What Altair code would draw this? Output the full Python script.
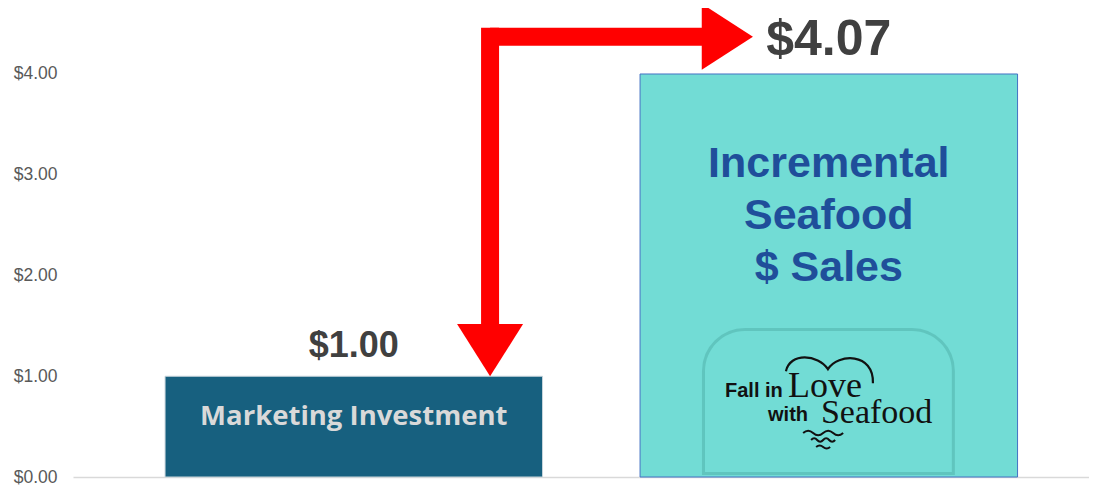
import altair as alt
import pandas as pd

# ---- data ----
categories = ["Marketing Investment", "Incremental Seafood $ Sales"]
values = [1.00, 4.00]
value_labels = ["$1.00", "$4.07"]
inner_labels = ["Marketing Investment", "Incremental\nSeafood\n$ Sales"]
bar_colors = ["#17607F", "#72DCD5"]
bar_strokes = ["#C9D6DC", "#4472C4"]
y_ticks = [0, 1, 2, 3, 4]

# annotation level of the "$4.07" callout arrow (in $)
arrow_level = 4.37

# ---- layout helpers ----
PLOT_H = 469
Y_MAX = 4.655
PX_PER_UNIT = PLOT_H / Y_MAX
HEAD_LEN_PX = 52

x_scale = alt.Scale(domain=categories, paddingInner=0.2053, paddingOuter=0.1721, align=0.563)
y_scale = alt.Scale(domain=[0, Y_MAX], nice=False, zero=True)

x_axis = alt.Axis(labels=False, ticks=False, title=None, domainColor="#D9D9D9", domainWidth=1.5, grid=False)
y_axis = alt.Axis(values=y_ticks, format="$.2f", title=None, domain=False, ticks=False, grid=False,
                  labelFont="Liberation Sans", labelFontSize=17.5, labelColor="#595959", labelPadding=16)


def X(field="cat", bp=None):
    kw = {}
    if bp is not None:
        kw["bandPosition"] = bp
    return alt.X(f"{field}:N", scale=x_scale, axis=x_axis, **kw)


def Y(field="value"):
    return alt.Y(f"{field}:Q", scale=y_scale, axis=y_axis)


bars_df = pd.DataFrame({"cat": categories, "value": values, "color": bar_colors, "stroke": bar_strokes})

bars = alt.Chart(bars_df).mark_bar(strokeWidth=1).encode(
    x=X(), y=Y(),
    color=alt.Color("color:N", scale=None),
    stroke=alt.Stroke("stroke:N", scale=None),
)

# value label above the first bar
lbl1 = alt.Chart(pd.DataFrame({"cat": [categories[0]], "value": [values[0]], "label": [value_labels[0]]})).mark_text(
    font="Liberation Sans", fontWeight="bold", fontSize=36, color="#404040", baseline="middle", dy=-30
).encode(x=X(), y=Y(), text="label:N")

# value label at the arrow tip for the second bar
lbl2 = alt.Chart(pd.DataFrame({"cat": [categories[1]], "value": [arrow_level], "label": [value_labels[1]]})).mark_text(
    font="Liberation Sans", fontWeight="bold", fontSize=50, color="#404040", baseline="middle", dy=3
).encode(x=X(), y=Y(), text="label:N")

# labels inside bars
in1 = alt.Chart(pd.DataFrame({"cat": [categories[0]], "value": [values[0]], "label": [inner_labels[0]]})).mark_text(
    font="Open Sans", fontWeight="bold", fontSize=27.5, color="#D9D9D9", baseline="middle", dy=41
).encode(x=X(), y=Y(), text="label:N")

in2 = alt.Chart(pd.DataFrame({"cat": [categories[1]], "value": [values[1]], "label": [inner_labels[1]]})).mark_text(
    font="Liberation Sans", fontWeight="bold", fontSize=43, color="#1F4E9A", baseline="middle",
    dy=90, lineBreak="\n", lineHeight=52
).encode(x=X(), y=Y(), text="label:N")

# ---- red callout arrow ----
head_len = HEAD_LEN_PX / PX_PER_UNIT
vshaft = alt.Chart(pd.DataFrame({"cat": [categories[0]], "value": [values[0] + head_len], "v2": [arrow_level]})).mark_rule(
    color="#FF0000", strokeWidth=18, strokeCap="square"
).encode(x=X(bp=0.861), y=Y(), y2="v2:Q")

hshaft = alt.Chart(pd.DataFrame({"cat": [categories[0]], "cat_b": [categories[1]], "value": [arrow_level]})).mark_rule(
    color="#FF0000", strokeWidth=18, strokeCap="butt"
).encode(x=X(bp=0.861), x2=alt.X2("cat_b", bandPosition=0.165), y=Y())

down_head = alt.Chart(pd.DataFrame({"cat": [categories[0]], "value": [values[0]]})).mark_point(
    shape="M0,0L-1,-1.58L1,-1.58Z", filled=True, size=4356, color="#FF0000", opacity=1
).encode(x=X(bp=0.861), y=Y())

right_head = alt.Chart(pd.DataFrame({"cat": [categories[1]], "value": [arrow_level]})).mark_point(
    shape="M0,0L-1.55,-1L-1.55,1Z", filled=True, size=4356, color="#FF0000", opacity=1
).encode(x=X(bp=0.299), y=Y())

# ---- "Fall in Love with Seafood" badge ----
logo_df = pd.DataFrame({"cat": [categories[1]], "cat_b": [categories[1]], "value": [0.05], "v2": [1.449]})
logo_shadow = alt.Chart(logo_df).mark_rect(
    fill="#72DCD5", stroke="#3F9B96", strokeWidth=6, strokeOpacity=0.35,
    cornerRadiusTopLeft=40, cornerRadiusTopRight=40
).encode(x=X(bp=0.172), x2=alt.X2("cat_b", bandPosition=0.826), y=Y(), y2="v2:Q")
logo_fill = alt.Chart(logo_df).mark_rect(
    fill="#72DCD5", cornerRadiusTopLeft=40, cornerRadiusTopRight=40
).encode(x=X(bp=0.172), x2=alt.X2("cat_b", bandPosition=0.826), y=Y(), y2="v2:Q")


def logo_text(txt, bp, val, font, size, weight="normal"):
    return alt.Chart(pd.DataFrame({"cat": [categories[1]], "value": [val], "t": [txt]})).mark_text(
        font=font, fontSize=size, fontWeight=weight, color="#111111", align="left", baseline="alphabetic"
    ).encode(x=X(bp=bp), y=Y(), text="t:N")


t_fall = logo_text("Fall in", 0.225, 0.79, "Liberation Sans", 20, "bold")
t_love = logo_text("Love", 0.392, 0.79, "Liberation Serif", 36)
t_with = logo_text("with", 0.339, 0.556, "Liberation Sans", 20, "bold")
t_sea = logo_text("Seafood", 0.479, 0.536, "Liberation Serif", 34)

heart = alt.Chart(pd.DataFrame({"cat": [categories[1]], "value": [1.08]})).mark_point(
    shape="M-4.4,0.3 C-4,-1.6 -1.2,-1.4 -0.2,0.1 C0.8,-1.5 4.4,-1.6 4.3,1.5",
    filled=False, size=400, color="#111111", strokeWidth=2.2, opacity=1
).encode(x=X(bp=0.503), y=Y())


def wave_path(x0, x1, y, n, amp):
    seg = (x1 - x0) / n
    parts = [f"M{x0:.2f},{y:.2f}"]
    for i in range(n):
        xa = x0 + seg * i
        sgn = -1 if i % 2 == 0 else 1
        parts.append(f"Q{xa + seg / 2:.2f},{y + sgn * amp:.2f} {xa + seg:.2f},{y:.2f}")
    return " ".join(parts)


waves_shape = " ".join([
    wave_path(-2.0, 2.0, -0.7, 4, 0.45),
    wave_path(-1.2, 1.2, 0.0, 4, 0.35),
    wave_path(-0.7, 0.7, 0.7, 2, 0.3),
])

waves = alt.Chart(pd.DataFrame({"cat": [categories[1]], "value": [0.367]})).mark_point(
    shape=waves_shape, filled=False, size=400, color="#111111", strokeWidth=2, opacity=1
).encode(x=X(bp=0.485), y=Y())

chart = alt.layer(
    bars, logo_shadow, logo_fill, heart, waves, t_fall, t_love, t_with, t_sea,
    lbl1, lbl2, in1, in2, vshaft, hshaft, down_head, right_head
).properties(
    width=1016, height=PLOT_H,
    autosize=alt.AutoSizeParams(type="none"),
    padding={"left": 65, "top": 0, "right": 0, "bottom": 9},
).configure_view(stroke=None)

chart.save("out.html", embed_options={"renderer": "svg", "actions": False})
